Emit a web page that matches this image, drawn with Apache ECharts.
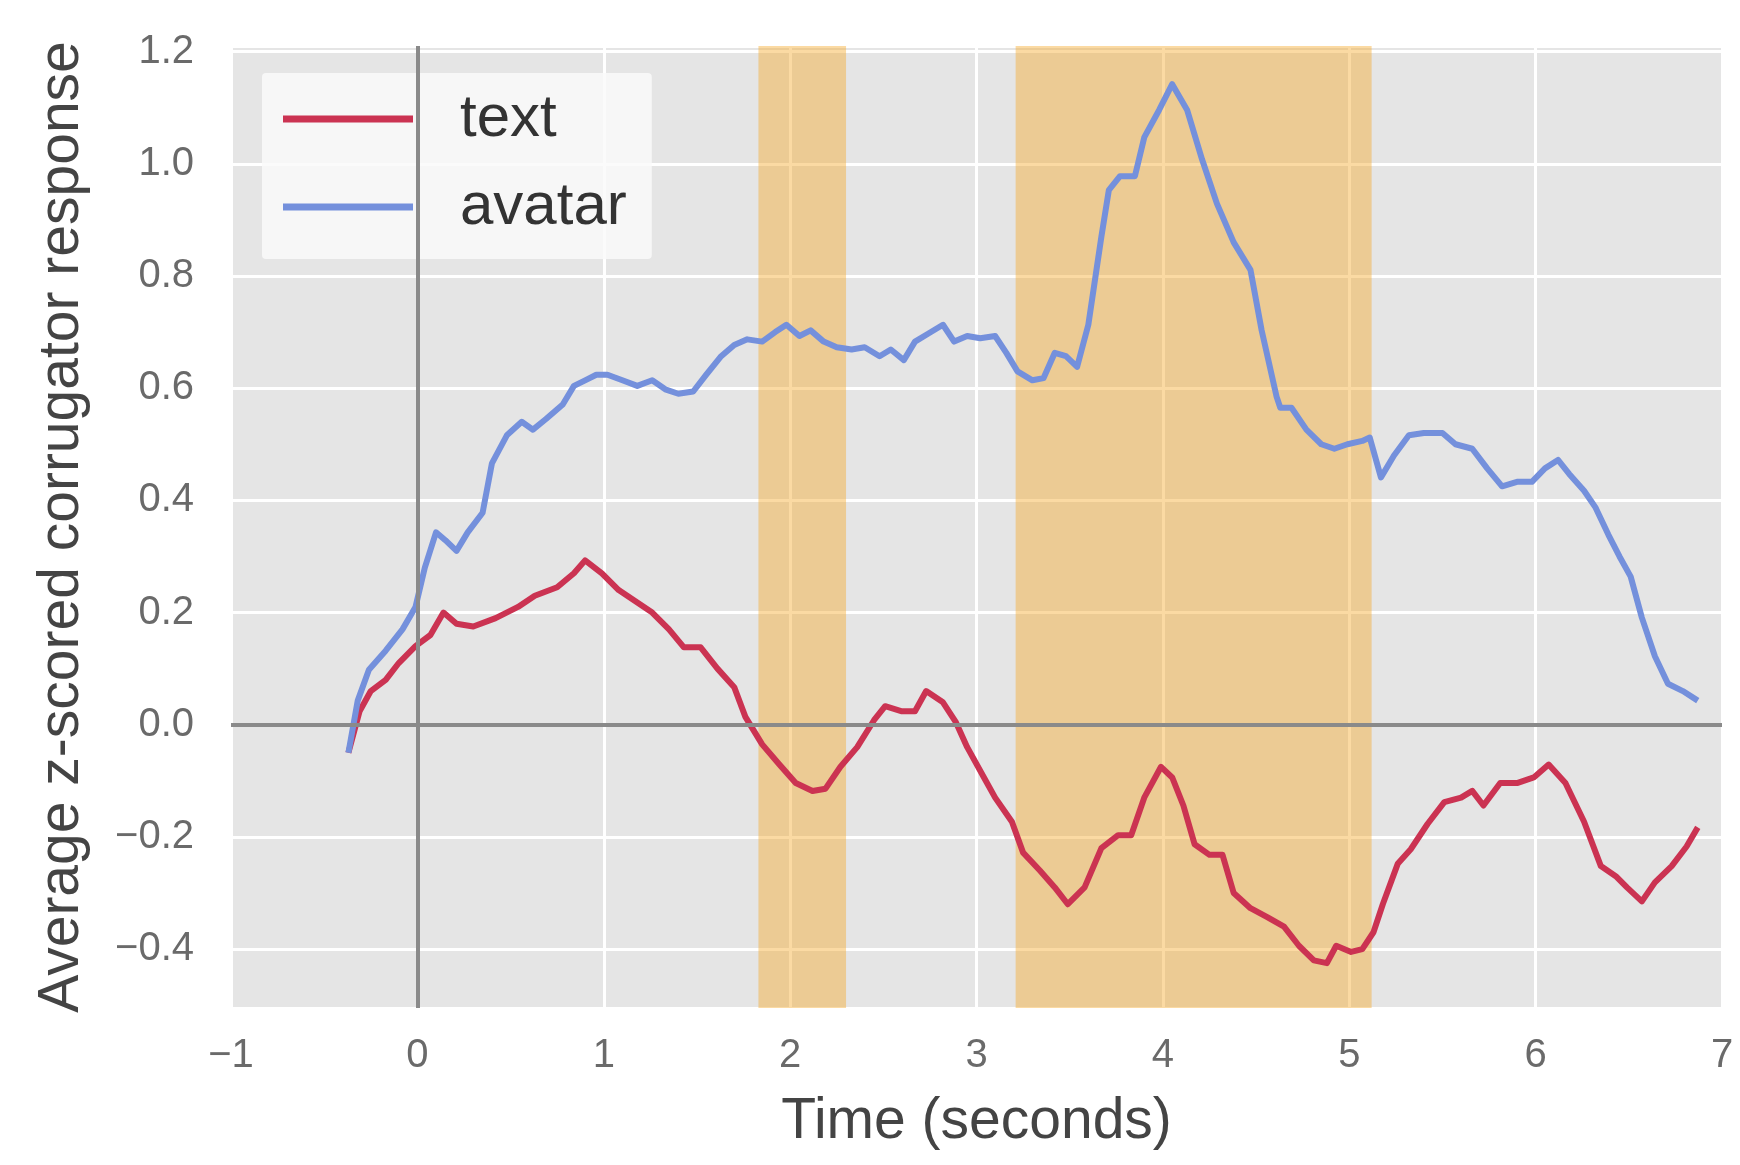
<!DOCTYPE html>
<html>
<head>
<meta charset="utf-8">
<script src="https://cdn.jsdelivr.net/npm/echarts@6/dist/echarts.min.js"></script>
<style>
html,body{margin:0;padding:0;background:#fff;}
#main{width:1740px;height:1165px;}
</style>
</head>
<body>
<div id="main"></div>
<script>
// ---- data ----
const textTime = [-0.37,-0.31,-0.25,-0.17,-0.10,-0.01,0.07,0.14,0.21,0.30,0.42,0.54,0.63,0.75,0.84,0.90,0.99,1.08,1.17,1.26,1.35,1.43,1.52,1.61,1.70,1.76,1.85,1.94,2.03,2.12,2.19,2.27,2.36,2.45,2.51,2.60,2.67,2.73,2.82,2.89,2.95,3.04,3.10,3.19,3.25,3.34,3.42,3.49,3.58,3.67,3.76,3.83,3.90,3.99,4.05,4.11,4.17,4.25,4.32,4.38,4.47,4.56,4.65,4.73,4.81,4.88,4.93,5.01,5.07,5.13,5.18,5.26,5.33,5.42,5.51,5.60,5.66,5.72,5.81,5.90,5.99,6.07,6.16,6.26,6.35,6.43,6.49,6.57,6.64,6.73,6.81,6.87];
const textValue = [-0.05,0.024,0.06,0.08,0.11,0.14,0.16,0.20,0.18,0.175,0.19,0.21,0.23,0.245,0.27,0.293,0.27,0.24,0.22,0.20,0.17,0.138,0.138,0.10,0.067,0.014,-0.035,-0.07,-0.104,-0.118,-0.114,-0.075,-0.04,0.008,0.033,0.024,0.024,0.06,0.04,0.004,-0.04,-0.094,-0.13,-0.173,-0.228,-0.26,-0.29,-0.32,-0.29,-0.22,-0.197,-0.197,-0.13,-0.075,-0.094,-0.144,-0.213,-0.232,-0.232,-0.30,-0.327,-0.343,-0.36,-0.394,-0.42,-0.425,-0.394,-0.405,-0.40,-0.37,-0.32,-0.248,-0.222,-0.177,-0.138,-0.13,-0.118,-0.144,-0.104,-0.104,-0.094,-0.071,-0.104,-0.173,-0.252,-0.27,-0.29,-0.315,-0.281,-0.252,-0.217,-0.183];

const avatarTime = [-0.37,-0.32,-0.26,-0.17,-0.08,-0.01,0.04,0.10,0.15,0.21,0.27,0.35,0.40,0.48,0.56,0.62,0.69,0.78,0.84,0.90,0.96,1.02,1.10,1.18,1.26,1.33,1.40,1.48,1.55,1.63,1.70,1.77,1.85,1.92,1.98,2.05,2.11,2.18,2.25,2.33,2.40,2.48,2.54,2.61,2.67,2.74,2.82,2.88,2.95,3.02,3.10,3.16,3.22,3.30,3.36,3.42,3.48,3.54,3.60,3.67,3.71,3.77,3.85,3.90,3.98,4.05,4.13,4.21,4.29,4.38,4.47,4.53,4.61,4.63,4.69,4.77,4.85,4.92,4.99,5.07,5.11,5.17,5.24,5.32,5.40,5.50,5.57,5.66,5.74,5.82,5.90,5.98,6.05,6.12,6.18,6.26,6.32,6.39,6.45,6.51,6.57,6.64,6.71,6.79,6.87];
const avatarValue = [-0.05,0.043,0.098,0.132,0.17,0.21,0.28,0.343,0.329,0.31,0.343,0.378,0.466,0.516,0.54,0.526,0.545,0.571,0.604,0.614,0.624,0.624,0.614,0.604,0.614,0.598,0.59,0.594,0.624,0.657,0.677,0.687,0.683,0.70,0.713,0.693,0.703,0.683,0.673,0.669,0.673,0.657,0.669,0.65,0.683,0.697,0.713,0.683,0.693,0.689,0.693,0.663,0.63,0.614,0.618,0.663,0.657,0.638,0.713,0.87,0.953,0.978,0.978,1.047,1.096,1.142,1.096,1.008,0.929,0.86,0.811,0.703,0.585,0.565,0.565,0.526,0.50,0.492,0.50,0.506,0.512,0.441,0.48,0.516,0.52,0.52,0.50,0.492,0.457,0.425,0.433,0.433,0.457,0.472,0.447,0.417,0.388,0.339,0.30,0.264,0.191,0.122,0.073,0.06,0.043];

// shaded time windows (seconds)
const shadedSpans = [[1.83, 2.30], [3.21, 5.12]];
const seriesNames = ['text', 'avatar'];
const xTicks = {min: -1, max: 7, step: 1};
const yRange = {min: -0.505, max: 1.21};

function zip(a, b) { return a.map((t, i) => [t, b[i]]); }
function fmtY(v) {
  if (Math.abs(v * 5 - Math.round(v * 5)) > 1e-6) return '';
  const s = Math.abs(v).toFixed(1);
  return v < -1e-9 ? '\u2212' + s : s;
}
function fmtX(v) {
  return v < 0 ? '\u2212' + Math.abs(v) : String(v);
}

const FONT = '"Liberation Sans", Arial, Helvetica, sans-serif';
const chart = echarts.init(document.getElementById('main'));
chart.setOption({
  animation: false,
  backgroundColor: '#ffffff',
  textStyle: {fontFamily: FONT},
  grid: {left: 231, right: 18, top: 46, bottom: 157, show: true, backgroundColor: '#E5E5E5', borderWidth: 0},
  legend: {
    data: seriesNames,
    orient: 'vertical',
    left: 262, top: 73,
    itemWidth: 130, itemHeight: 7,
    icon: 'rect',
    itemGap: 28,
    padding: [16, 25, 22, 21],
    backgroundColor: 'rgba(250,250,250,0.85)',
    borderRadius: 4,
    textStyle: {fontSize: 60, lineHeight: 60, color: '#333', fontFamily: FONT, padding: [0, 0, 0, 42]}
  },
  xAxis: {
    type: 'value', min: xTicks.min, max: xTicks.max, interval: xTicks.step,
    axisLine: {show: false}, axisTick: {show: false},
    splitLine: {show: true, lineStyle: {color: '#ffffff', width: 3}},
    axisLabel: {fontSize: 40, color: '#6a6a6a', margin: 28, formatter: fmtX, fontFamily: FONT},
    name: 'Time (seconds)', nameLocation: 'middle', nameGap: 86,
    nameTextStyle: {fontSize: 57, color: '#444', fontFamily: FONT}
  },
  yAxis: {
    type: 'value', min: yRange.min, max: yRange.max, splitNumber: 9,
    axisLine: {show: false}, axisTick: {show: false},
    splitLine: {show: true, lineStyle: {color: '#ffffff', width: 3}},
    axisLabel: {fontSize: 40, color: '#6a6a6a', margin: 37, formatter: fmtY, fontFamily: FONT},
    name: 'Average z-scored corrugator response', nameLocation: 'middle', nameGap: 140, nameRotate: 90,
    nameTextStyle: {fontSize: 57, color: '#444', fontFamily: FONT}
  },
  series: [
    {
      type: 'line', name: '_ref', data: [], z: 1, silent: true,
      markLine: {
        silent: true, symbol: 'none', label: {show: false},
        lineStyle: {color: '#8a8a8a', width: 4, type: 'solid'},
        data: [{xAxis: 0}, {yAxis: 0}]
      }
    },
    {
      type: 'line', name: seriesNames[0], data: zip(textTime, textValue), z: 3,
      showSymbol: false, symbol: 'none', smooth: false,
      lineStyle: {color: '#CB3352', width: 6, join: 'round'}, itemStyle: {color: '#CB3352'}
    },
    {
      type: 'line', name: seriesNames[1], data: zip(avatarTime, avatarValue), z: 3,
      showSymbol: false, symbol: 'none', smooth: false,
      lineStyle: {color: '#7490DC', width: 6, join: 'round'}, itemStyle: {color: '#7490DC'}
    },
    {
      type: 'line', name: '_spans', data: [], z: 5, silent: true,
      markArea: {
        silent: true,
        itemStyle: {color: 'rgba(245,168,35,0.42)'},
        data: shadedSpans.map(s => [{xAxis: s[0]}, {xAxis: s[1]}])
      }
    }
  ]
});
</script>
</body>
</html>
